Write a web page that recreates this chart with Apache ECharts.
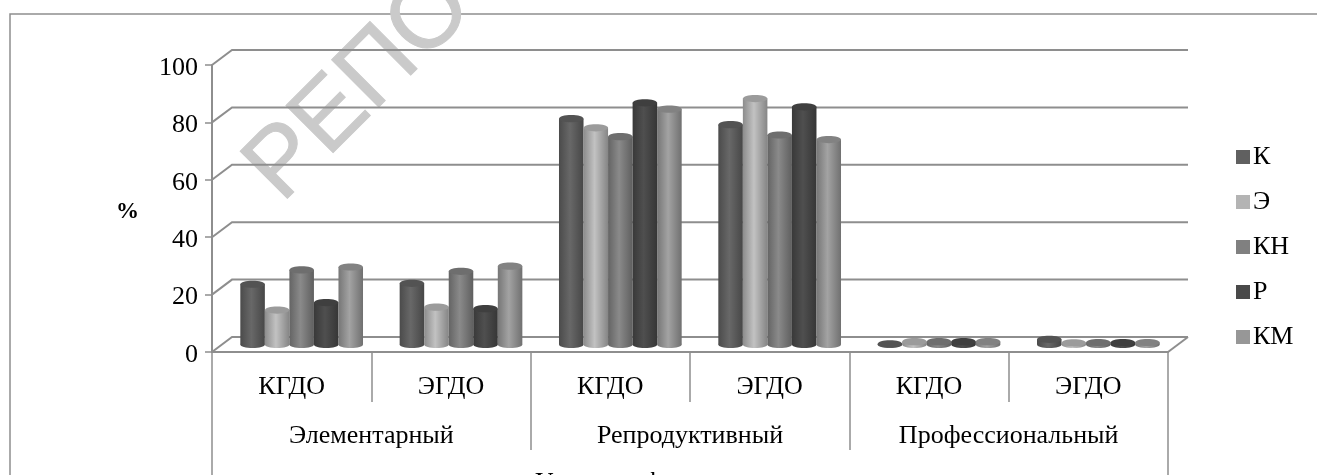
<!DOCTYPE html>
<html>
<head>
<meta charset="utf-8">
<style>html,body{margin:0;padding:0;background:#fff}#main{width:1317px;height:475px}</style>
<script src="https://cdn.jsdelivr.net/npm/echarts@6/dist/echarts.min.js"></script>
</head>
<body>
<div id="main"></div>
<script>
var groups = ['КГДО', 'ЭГДО', 'КГДО', 'ЭГДО', 'КГДО', 'ЭГДО'];
var levels = ['Элементарный', 'Репродуктивный', 'Профессиональный'];
var axisTitle = ['Уровень сформированности'];
var yTicks = [0, 20, 40, 60, 80, 100];

var seriesNames = ['К', 'Э', 'КН', 'Р', 'КМ'];
var valuesK = [21, 21.3, 78.7, 76.6, 0.2, 1.8];
var valuesE = [12, 13, 75.5, 85.7, 1, 0.6];
var valuesKN = [26, 25.5, 72.4, 73, 1, 0.7];
var valuesR = [14.6, 12.5, 84.2, 82.8, 1, 0.7];
var valuesKM = [27, 27.3, 82, 71.4, 1, 0.7];
var seriesValues = [valuesK, valuesE, valuesKN, valuesR, valuesKM];
var seriesColors = ['#606060', '#b4b4b4', '#808080', '#494949', '#979797'];

var lineColor = '#8e8e8e';
var serif = '"Liberation Serif", serif';

// shade a grey hex colour, used for the round sides of the bars
function shade(hex, k) {
    var v = Math.min(255, Math.round(parseInt(hex.slice(1, 3), 16) * k));
    return 'rgb(' + v + ',' + v + ',' + v + ')';
}

// back wall and floor, 3d look is just an offset of the value axis
function renderWall(params, api) {
    var dx = 20, dy = -15;
    var p = api.coord([0, api.value(0)]);
    var w = params.coordSys.width;
    var left = params.coordSys.x;
    var kids = [{
        type: 'polyline',
        shape: {points: [[left, p[1]], [left + dx, p[1] + dy], [left + w + dx, p[1] + dy]]},
        style: {stroke: lineColor, lineWidth: 2, fill: null}
    }];
    if (api.value(0) === 0) {
        kids.push({
            type: 'line',
            shape: {x1: left + w, y1: p[1], x2: left + w + dx, y2: p[1] + dy},
            style: {stroke: lineColor, lineWidth: 2}
        });
    }
    return {type: 'group', children: kids};
}

function renderBar(params, api) {
    var color = seriesColors[params.seriesIndex - 1];
    var slot = params.seriesIndex - 3;
    var band = api.size([1, 0])[0];
    var bw = band * 0.154;
    var rx = bw / 2, ry = 3.6;
    var top = api.coord([api.value(0), api.value(1)]);
    var base = api.coord([api.value(0), 0]);
    var cx = top[0] + 10 + slot * bw;
    var yTop = top[1] - 7.5;
    var yBase = base[1] - 7.5;
    var fill = new echarts.graphic.LinearGradient(0, 0, 1, 0, [
        {offset: 0, color: shade(color, 0.78)},
        {offset: 0.45, color: shade(color, 1.08)},
        {offset: 1, color: shade(color, 0.74)}
    ]);
    return {
        type: 'group',
        children: [
            {type: 'ellipse', shape: {cx: cx, cy: yBase, rx: rx, ry: ry}, style: {fill: fill}},
            {type: 'rect', shape: {x: cx - rx, y: yTop, width: bw, height: yBase - yTop}, style: {fill: fill}},
            {type: 'ellipse', shape: {cx: cx, cy: yTop, rx: rx, ry: ry}, style: {fill: shade(color, 0.86)}}
        ]
    };
}

var series = [{
    type: 'custom',
    name: 'wall',
    z: 1,
    silent: true,
    clip: false,
    data: yTicks.map(function (t) { return [t]; }),
    encode: {y: 0},
    renderItem: renderWall
}];
seriesNames.forEach(function (name, s) {
    series.push({
        type: 'custom',
        name: name,
        z: 3,
        clip: false,
        itemStyle: {color: seriesColors[s]},
        data: seriesValues[s].map(function (v, i) { return [i, v]; }),
        encode: {x: 0, y: 1},
        renderItem: renderBar
    });
});

var myChart = echarts.init(document.getElementById('main'));
myChart.setOption({
    backgroundColor: '#fff',
    animation: false,
    textStyle: {fontFamily: serif, color: '#000'},
    graphic: [{
        type: 'rect',
        z: 0,
        silent: true,
        shape: {x: 10, y: 14, width: 1500, height: 700},
        style: {fill: null, stroke: lineColor, lineWidth: 1.5}
    }, {
        type: 'text',
        z: 0,
        silent: true,
        x: 360,
        y: 88,
        rotation: Math.PI / 4,
        style: {
            text: 'РЕПО',
            font: '97px "Liberation Sans", sans-serif',
            fill: '#cacaca',
            stroke: '#cacaca',
            lineWidth: 1,
            textAlign: 'center',
            textVerticalAlign: 'middle'
        }
    }],
    legend: {
        orient: 'vertical',
        left: 1231,
        top: 139,
        itemWidth: 14,
        itemHeight: 14,
        itemGap: 19,
        data: seriesNames.map(function (n) { return {name: n, icon: 'rect'}; }),
        textStyle: {fontFamily: serif, fontSize: 26, color: '#000', padding: [0, 0, 0, -2]}
    },
    grid: {left: 212, top: 65, width: 956, height: 287, outerBoundsMode: 'none'},
    xAxis: [{
        type: 'category',
        data: groups,
        position: 'bottom',
        axisLine: {show: true, lineStyle: {color: lineColor, width: 2}},
        axisTick: {show: true, length: 50, lineStyle: {color: lineColor, width: 1.5}},
        axisLabel: {fontFamily: serif, fontSize: 26, color: '#000', margin: 22, interval: 0}
    }, {
        type: 'category',
        data: levels,
        position: 'bottom',
        offset: 50,
        axisLine: {show: false},
        axisTick: {show: true, length: 48, lineStyle: {color: lineColor, width: 1.5}},
        axisLabel: {fontFamily: serif, fontSize: 26, color: '#000', margin: 21, interval: 0}
    }, {
        type: 'category',
        data: axisTitle,
        position: 'bottom',
        offset: 98,
        axisLine: {show: false},
        axisTick: {show: true, length: 30, lineStyle: {color: lineColor, width: 1.5}},
        axisLabel: {fontFamily: serif, fontSize: 26, color: '#000', margin: 20, interval: 0}
    }],
    yAxis: {
        type: 'value',
        min: 0,
        max: 100,
        interval: 20,
        name: '%',
        nameLocation: 'middle',
        nameRotate: 0,
        nameGap: 73,
        nameTextStyle: {fontFamily: serif, fontSize: 23, fontWeight: 'bold', color: '#000', verticalAlign: 'top', padding: [-8, 0, 0, 0]},
        axisLine: {show: true, lineStyle: {color: lineColor, width: 2}},
        axisTick: {show: true, length: 7, lineStyle: {color: lineColor, width: 1.5}},
        axisLabel: {fontFamily: serif, fontSize: 26, color: '#000', margin: 14, verticalAlign: 'top', padding: [-10, 0, 0, 0]},
        splitLine: {show: false}
    },
    series: series
});
</script>
</body>
</html>
